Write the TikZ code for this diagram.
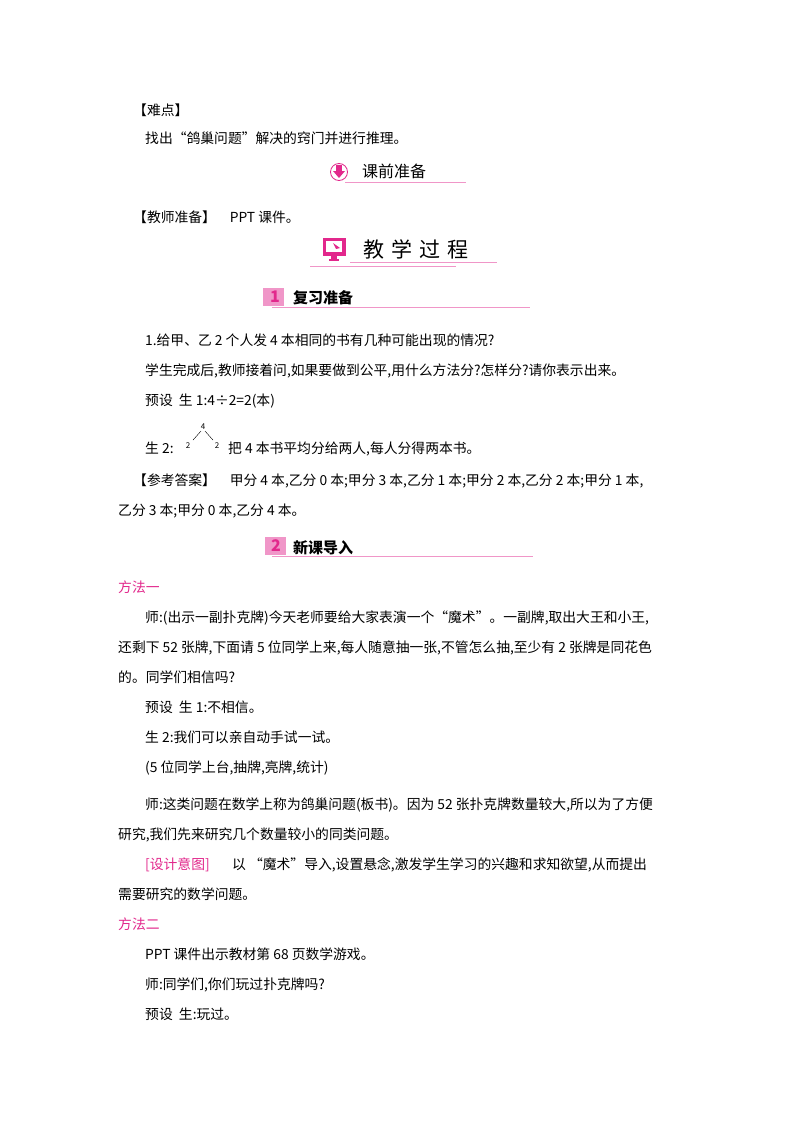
\documentclass[tikz,border=0pt]{standalone}
\usepackage{fontspec}
\setmainfont{Noto Sans CJK SC}
\definecolor{pk}{RGB}{226,40,140}
\definecolor{lpk}{RGB}{240,150,200}
\begin{document}
\begin{tikzpicture}[x=1pt,y=-1pt,
  t/.style={anchor=base west,inner sep=0pt,font=\fontsize{13.8}{14}\selectfont},
  m/.style={t,text=pk},
  h/.style={anchor=base west,inner sep=0pt,font=\fontsize{15}{16}\selectfont\bfseries},
  uline/.style={lpk,line width=0.8pt}]
\useasboundingbox[fill=white] (0,0) rectangle (800,1132);
\node[t] (a1) at (133,115) {【难点】};
\node[t] (a2) at (145,143) {找出“鸽巢问题”解决的窍门并进行推理。};
% heading 1
\node[circle,draw=pk,fill=white,line width=0.8pt,minimum size=17pt,inner sep=0pt] (i1) at (339,172) {};
\fill[pk] (336,165) rectangle (342,171);
\fill[pk] (333,171) -- (345,171) -- (339,178) -- cycle;
\node[h,font=\fontsize{16}{16}\selectfont] (h1) at (362,177) {课前准备};
\draw[uline] (345,182) -- (466,182);
\node[t] (a3) at (133,222) {【教师准备】\quad PPT 课件。};
% heading 2
\draw[pk,fill=pk] (323,238) rectangle (345,255);
\fill[white] (326,241) rectangle (342,252);
\fill[pk] (331,256) rectangle (337,259);
\fill[pk] (329,259) rectangle (339,261);
\fill[pk] (333,243) -- (340,248) -- (336,249) -- cycle;
\node[anchor=base west,inner sep=0pt,font=\fontsize{21}{21}\selectfont] (h2) at (363,257) {教\,\,学\,\,过\,\,程};
\draw[uline] (350,262) -- (497,262);
\draw[uline] (310,266) -- (456,266);
% heading 3
\fill[lpk] (263,288) rectangle (284,306);
\node[anchor=center,text=pk,font=\fontsize{16}{16}\selectfont\bfseries\itshape] (n1) at (275,297) {1};
\node[h] (h3) at (293,303) {复习准备};
\draw[uline] (272,307) -- (530,307);
\node[t] (b1) at (145,345) {1.给甲、乙 2 个人发 4 本相同的书有几种可能出现的情况?};
\node[t] (b2) at (145,375) {学生完成后,教师接着问,如果要做到公平,用什么方法分?怎样分?请你表示出来。};
\node[t] (b3) at (145,405) {预设\ \ 生 1:4÷2=2(本)};
\node[t] (b4) at (145,453) {生 2:};
\node[inner sep=0pt,font=\fontsize{8}{8}\selectfont] (f4) at (203,427) {4};
\node[inner sep=0pt,font=\fontsize{8}{8}\selectfont] (f2a) at (188,446) {2};
\node[inner sep=0pt,font=\fontsize{8}{8}\selectfont] (f2b) at (217,446) {2};
\draw (f4.south) ++(-2,1) -- ++(-8,9);
\draw (f4.south) ++(2,1) -- ++(8,9);
\node[t] (b5) at (228,453) {把 4 本书平均分给两人,每人分得两本书。};
\node[t] (b6) at (133,485) {【参考答案】\quad 甲分 4 本,乙分 0 本;甲分 3 本,乙分 1 本;甲分 2 本,乙分 2 本;甲分 1 本,};
\node[t] (b7) at (118,515) {乙分 3 本;甲分 0 本,乙分 4 本。};
% heading 4
\fill[lpk] (265,537) rectangle (286,555);
\node[anchor=center,text=pk,font=\fontsize{16}{16}\selectfont\bfseries\itshape] (n2) at (276,546) {2};
\node[h] (h4) at (293,553) {新课导入};
\draw[uline] (272,556) -- (533,556);
\node[m] (c0) at (118,592) {方法一};
\node[t] (c1) at (145,622) {师:(出示一副扑克牌)今天老师要给大家表演一个“魔术”。一副牌,取出大王和小王,};
\node[t] (c2) at (118,652) {还剩下 52 张牌,下面请 5 位同学上来,每人随意抽一张,不管怎么抽,至少有 2 张牌是同花色};
\node[t] (c3) at (118,682) {的。同学们相信吗?};
\node[t] (c4) at (145,712) {预设\ \ 生 1:不相信。};
\node[t] (c5) at (145,742) {生 2:我们可以亲自动手试一试。};
\node[t] (c6) at (145,772) {(5 位同学上台,抽牌,亮牌,统计)};
\node[t] (c7) at (145,809) {师:这类问题在数学上称为鸽巢问题(板书)。因为 52 张扑克牌数量较大,所以为了方便};
\node[t] (c8) at (118,839) {研究,我们先来研究几个数量较小的同类问题。};
\node[m] (c9) at (145,869) {[设计意图]};
\node[t] (c10) at (232,869) {以 “魔术”导入,设置悬念,激发学生学习的兴趣和求知欲望,从而提出};
\node[t] (c11) at (118,899) {需要研究的数学问题。};
\node[m] (d0) at (118,929) {方法二};
\node[t] (d1) at (145,959) {PPT 课件出示教材第 68 页数学游戏。};
\node[t] (d2) at (145,989) {师:同学们,你们玩过扑克牌吗?};
\node[t] (d3) at (145,1019) {预设\ \ 生:玩过。};
\end{tikzpicture}
\end{document}
